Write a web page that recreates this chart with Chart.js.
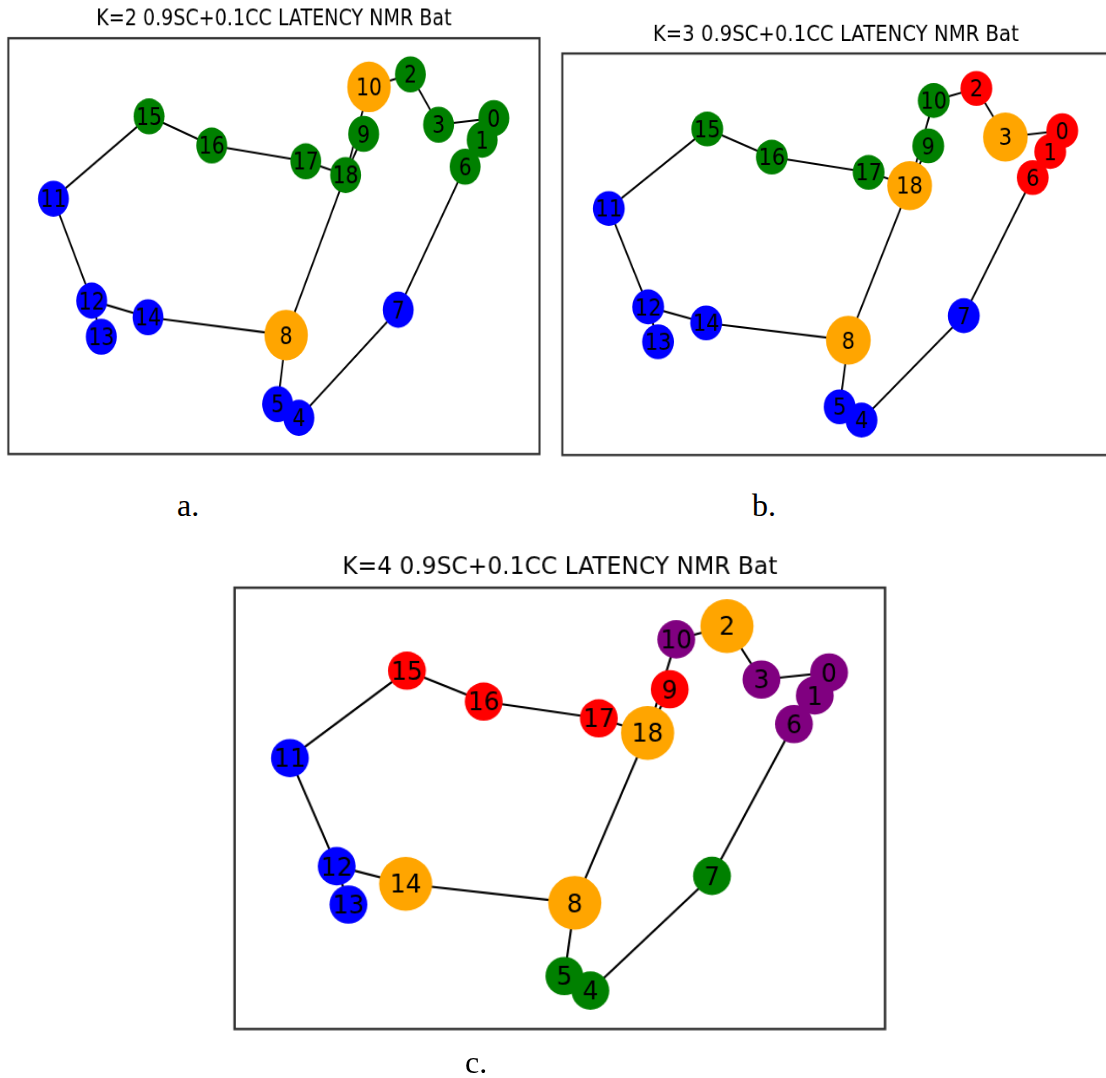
<!DOCTYPE html>
<html lang="en">
<head>
<meta charset="UTF-8">
<title>K=2/3/4 0.9SC+0.1CC LATENCY NMR Bat</title>
<script src="https://cdn.jsdelivr.net/npm/chart.js"></script>
<style>
  html, body { margin: 0; padding: 0; background: #fff; }
  body { width: 1106px; height: 1078px; overflow: hidden; position: relative; }
  .panel { position: absolute; left: 0; top: 0; transform-origin: 0 0; }
  .cap {
    position: absolute;
    font-family: 'Liberation Serif', 'Times New Roman', serif;
    font-size: 32px;
    line-height: 32px;
    color: #000;
  }
</style>
</head>
<body>
<div class="panel" id="wrapA"><canvas id="chartA" width="680" height="487"></canvas></div>
<div class="panel" id="wrapB"><canvas id="chartB" width="680" height="487"></canvas></div>
<div class="panel" id="wrapC"><canvas id="chartC" width="680" height="487"></canvas></div>

<div class="cap" style="left:177px; top:489px;">a.</div>
<div class="cap" style="left:752px; top:489px;">b.</div>
<div class="cap" style="left:465px; top:1046px;">c.</div>

<script>
// node layout (same layout in the three plots), axes go 0..1
const nodeIds = [0, 1, 2, 3, 4, 5, 6, 7, 8, 9, 10, 11, 12, 13, 14, 15, 16, 17, 18];
const posX = [0.914, 0.892, 0.757, 0.810, 0.547, 0.507, 0.860, 0.734, 0.523, 0.669, 0.679,
              0.085, 0.157, 0.175, 0.263, 0.265, 0.383, 0.560, 0.635];
const posY = [0.808, 0.756, 0.913, 0.792, 0.087, 0.120, 0.691, 0.347, 0.286, 0.770, 0.883,
              0.614, 0.369, 0.282, 0.329, 0.812, 0.742, 0.704, 0.671];

const edges = [[0, 1], [1, 6], [6, 7], [7, 4], [4, 5], [5, 8], [8, 14], [14, 12], [12, 13], [12, 11],
               [11, 15], [15, 16], [16, 17], [17, 18], [18, 8], [18, 9], [18, 10], [10, 2], [2, 3], [3, 0]];

// node colour per cluster, indexed by node id (orange = cluster head)
const colorsK2 = ['green', 'green', 'green', 'green', 'blue', 'blue', 'green', 'blue', 'orange', 'green',
                  'orange', 'blue', 'blue', 'blue', 'blue', 'green', 'green', 'green', 'green'];
const colorsK3 = ['red', 'red', 'red', 'orange', 'blue', 'blue', 'red', 'blue', 'orange', 'green',
                  'green', 'blue', 'blue', 'blue', 'blue', 'green', 'green', 'green', 'orange'];
const colorsK4 = ['purple', 'purple', 'orange', 'purple', 'green', 'green', 'purple', 'green', 'orange', 'red',
                  'purple', 'blue', 'blue', 'blue', 'orange', 'red', 'red', 'red', 'orange'];

const titles = ['K=2 0.9SC+0.1CC LATENCY NMR Bat', 'K=3 0.9SC+0.1CC LATENCY NMR Bat', 'K=4 0.9SC+0.1CC LATENCY NMR Bat'];

// order the nodes are painted in (5 lies under 4)
const drawOrder = [0, 1, 2, 3, 5, 4, 6, 7, 8, 9, 10, 11, 12, 13, 14, 15, 16, 17, 18];

// frame round the plot area
const framePlugin = {
    id: 'frame',
    afterDraw(chart) {
        const { left, top, width, height } = chart.chartArea;
        const ctx = chart.ctx;
        ctx.save();
        ctx.strokeStyle = '#333';
        ctx.lineWidth = 2.4;
        ctx.strokeRect(left, top, width, height);
        ctx.restore();
    }
};

// node numbers on top of the circles
const labelPlugin = {
    id: 'nodeLabels',
    afterDatasetsDraw(chart) {
        const last = chart.data.datasets.length - 1;
        const meta = chart.getDatasetMeta(last);
        const pts = chart.data.datasets[last].data;
        const ctx = chart.ctx;
        ctx.save();
        ctx.font = '24px "DejaVu Sans"';
        ctx.fillStyle = '#000';
        ctx.textAlign = 'center';
        ctx.textBaseline = 'alphabetic';
        meta.data.forEach((el, j) => {
            ctx.fillText(String(pts[j].id), el.x, el.y + 8.7);
        });
        ctx.restore();
    }
};

function makeChart(canvasId, title, colors) {
    const datasets = edges.map(([a, b]) => ({
        data: [{ x: posX[a], y: posY[a] }, { x: posX[b], y: posY[b] }],
        showLine: true,
        borderColor: '#000',
        borderWidth: 2.1,
        pointRadius: 0,
        pointHoverRadius: 0,
        order: 1
    }));
    // nodes go over the edges
    datasets.push({
        data: drawOrder.map(i => ({ x: posX[i], y: posY[i], id: nodeIds[i] })),
        backgroundColor: drawOrder.map(i => colors[i]),
        pointRadius: drawOrder.map(i => colors[i] === 'orange' ? 25.7 : 18.3),
        pointBorderWidth: 0,
        showLine: false,
        order: 0
    });

    return new Chart(document.getElementById(canvasId), {
        type: 'scatter',
        data: { datasets },
        options: {
            responsive: false,
            animation: false,
            events: [],
            layout: { padding: { left: 5, right: 5, top: 0, bottom: 5 } },
            plugins: {
                legend: { display: false },
                tooltip: { enabled: false },
                title: {
                    display: true,
                    text: title,
                    color: '#000',
                    font: { family: 'DejaVu Sans', size: 22.6, weight: 'normal' },
                    padding: { top: 8, bottom: 5 }
                }
            },
            scales: {
                x: { type: 'linear', min: 0, max: 1, display: false },
                y: { type: 'linear', min: 0, max: 1, display: false }
            }
        },
        plugins: [framePlugin, labelPlugin]
    });
}

// stretch each plot so its frame lands on the box of the figure
function place(chart, wrapId, box) {
    const a = chart.chartArea;
    const sx = box.w / a.width;
    const sy = box.h / a.height;
    document.getElementById(wrapId).style.transform =
        `translate(${box.l - a.left * sx}px, ${box.t - a.top * sy}px) scale(${sx}, ${sy})`;
}

const chartA = makeChart('chartA', titles[0], colorsK2);
const chartB = makeChart('chartB', titles[1], colorsK3);
const chartC = makeChart('chartC', titles[2], colorsK4);

place(chartA, 'wrapA', { l: 8.3, t: 38.2, w: 531.2, h: 415.8 });
place(chartB, 'wrapB', { l: 562.3, t: 53.5, w: 547, h: 401.5 });
place(chartC, 'wrapC', { l: 234.6, t: 587.7, w: 650.4, h: 441.3 });
</script>
</body>
</html>
